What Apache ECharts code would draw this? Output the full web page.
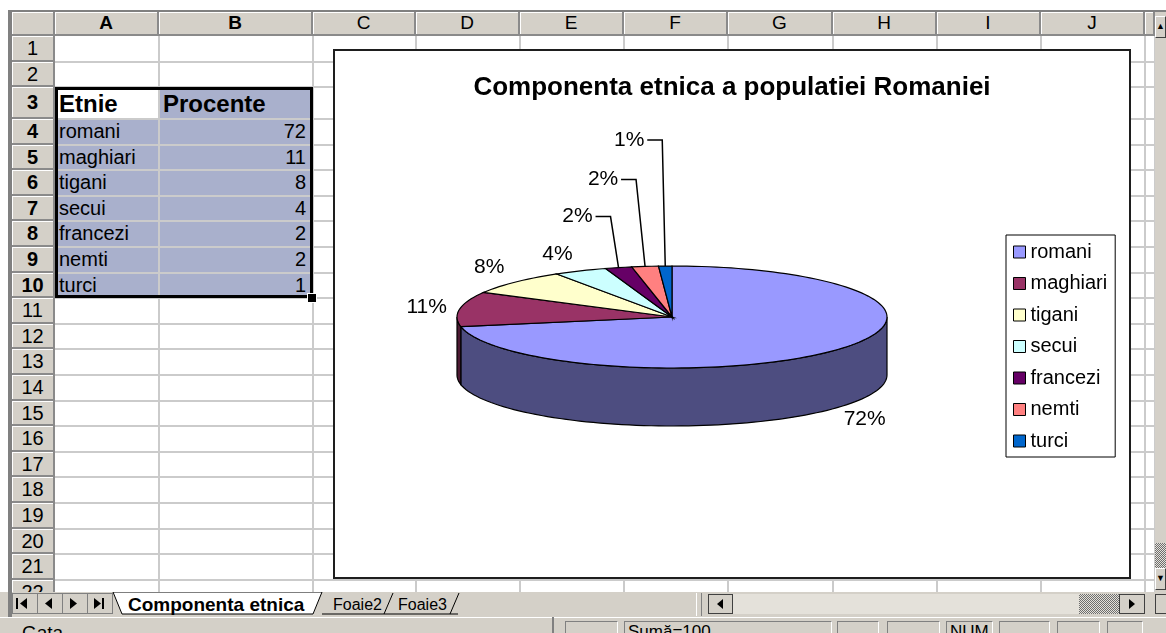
<!DOCTYPE html>
<html>
<head>
<meta charset="utf-8">
<title>Componenta etnica</title>
<script src="https://cdn.jsdelivr.net/npm/echarts@6/dist/echarts.min.js"></script>
<style>
  body { margin: 0; width: 1166px; height: 633px; overflow: hidden; background: #fff; position: relative;
         font-family: "Liberation Sans", Arial, sans-serif; color: #000; }
  .abs { position: absolute; box-sizing: border-box; white-space: nowrap; }
  .hdr { background: #d4d0c8; border-right: 2px solid #8a8a8a; border-bottom: 2px solid #8a8a8a;
         box-shadow: inset 1px 1px 0 #fff; text-align: center; font-size: 19px; overflow: hidden; }
  .btn { background: #d4d0c8; border: 1px solid; border-color: #fff #404040 #404040 #fff;
         font-size: 9px; text-align: center; line-height: 18px; }
  .panel { border: 1px solid; border-color: #808080 #fff #fff #808080; font-size: 17px; padding-left: 3px; line-height: 20px; }
  .checker { background: repeating-conic-gradient(#6e6e6e 0 25%, #e4e1da 0 50%) 0 0 / 2px 2px; }
</style>
</head>
<body>
<div class="abs" style="left:8px;top:10px;width:1158px;height:607px;background:#808080"></div>
<div id="sheet" class="abs" style="left:0;top:0;width:1155px;height:592px;overflow:hidden"></div>
<div id="chrome"></div>
<script>
// data
const categories = ['romani', 'maghiari', 'tigani', 'secui', 'francezi', 'nemti', 'turci'];
const values = [72, 11, 8, 4, 2, 2, 1];
const colors = ['#9999ff', '#993366', '#ffffcc', '#ccffff', '#660066', '#ff8080', '#0066cc'];
const tableHeader = ['Etnie', 'Procente'];
const columnNames = ['A', 'B', 'C', 'D', 'E', 'F', 'G', 'H', 'I', 'J', ''];
const sheetTabs = ['Componenta etnica', 'Foaie2', 'Foaie3'];
const chartTitle = 'Componenta etnica a populatiei Romaniei';

const total = values.reduce((a, b) => a + b, 0);
const font = '"Liberation Sans", Arial, sans-serif';

// sheet layout
const colEdges = [55, 159, 313, 416, 520, 624, 728, 833, 937, 1041, 1145, 1155];
const rowTops = [36, 62, 87, 119];
while (rowTops.length < 24) rowTops.push(119 + (rowTops.length - 3) * 25.6);

const sheet = document.getElementById('sheet');
const body = document.body;
function box(parent, x, y, w, h, cls, css, text) {
  const d = document.createElement('div');
  d.className = 'abs ' + (cls || '');
  Object.assign(d.style, { left: x + 'px', top: y + 'px', width: w + 'px', height: h + 'px' }, css || {});
  if (text != null) d.textContent = text;
  parent.appendChild(d);
  return d;
}

box(sheet, 12, 12, 1143, 580, '', { background: '#fff' });
// selection A3:B10
const selTop = rowTops[2], selBottom = rowTops[2 + categories.length + 1];
box(sheet, 55, selTop, 258, selBottom - selTop, '', { background: '#a9b0cc' });
box(sheet, 55, selTop, 104, rowTops[3] - selTop, '', { background: '#fff' });
// grid lines
for (let c = 1; c < colEdges.length; c++) box(sheet, colEdges[c] - 1, 36, 2, 556, '', { background: '#cbcbcb' });
for (let r = 1; r < rowTops.length; r++) box(sheet, 55, rowTops[r] - 1, 1100, 2, '', { background: '#cbcbcb' });
// table text
box(sheet, 59, selTop, 100, rowTops[3] - selTop, '', { font: 'bold 24px ' + font, lineHeight: '33px' }, tableHeader[0]);
box(sheet, 163, selTop, 150, rowTops[3] - selTop, '', { font: 'bold 24px ' + font, lineHeight: '33px' }, tableHeader[1]);
categories.forEach((name, i) => {
  const y = rowTops[3 + i], h = rowTops[4 + i] - y;
  box(sheet, 59, y, 100, h, '', { fontSize: '20px', lineHeight: h + 'px' }, name);
  box(sheet, 159, y, 147, h, '', { fontSize: '20px', lineHeight: h + 'px', textAlign: 'right' }, String(values[i]));
});
box(sheet, 55, selTop, 258, selBottom - selTop, '', { border: '3px solid #000' });
box(sheet, 308, selBottom - 4, 8, 8, '', { background: '#000', outline: '1px solid #fff' });
// headers
box(sheet, 12, 12, 43, 24, 'hdr');
columnNames.forEach((n, c) => {
  box(sheet, colEdges[c], 12, colEdges[c + 1] - colEdges[c], 24, 'hdr',
    { fontWeight: c < 2 ? 'bold' : 'normal', lineHeight: '22px' }, n);
});
for (let r = 0; r < rowTops.length - 1; r++) {
  const h = rowTops[r + 1] - rowTops[r];
  box(sheet, 12, rowTops[r], 43, h, 'hdr',
    { fontWeight: r >= 2 && r <= 9 ? 'bold' : 'normal', fontSize: '20px', lineHeight: (h - 1) + 'px' }, String(r + 1));
}
// chart object
const wrap = box(sheet, 333, 49, 798, 530, '', { border: '2px solid #1e1e1e', background: '#fff' });
const chartDiv = document.createElement('div');
chartDiv.id = 'chart';
chartDiv.style.cssText = 'position:absolute;left:0;top:0;width:794px;height:526px';
wrap.appendChild(chartDiv);

// vertical scrollbar
box(body, 1155, 12, 11, 580, '', { background: '#d4d0c8' });
box(body, 1155, 16, 11, 22, 'btn', {}, '▲');
box(body, 1155, 543, 11, 25, 'checker');
box(body, 1155, 568, 11, 22, 'btn', {}, '▼');

// tab bar
const tabSvg = `
<svg class="abs" style="left:0;top:592px" width="1166" height="25" font-family='${font}'>
  <rect width="1166" height="25" fill="#d4d0c8"/>
  <rect x="8" width="4" height="25" fill="#808080"/>
  ${[0, 1, 2, 3].map(k => `<rect x="${12.5 + 25 * k}" y="1.5" width="25" height="20" fill="#d4d0c8" stroke="#808080"/>`).join('')}
  <rect x="16" y="6" width="2" height="11" fill="#000"/><polygon points="27,6 20,11.5 27,17" fill="#000"/>
  <polygon points="52,6 45,11.5 52,17" fill="#000"/>
  <polygon points="70,6 77,11.5 70,17" fill="#000"/>
  <polygon points="94,6 101,11.5 94,17" fill="#000"/><rect x="102" y="6" width="2" height="11" fill="#000"/>
  <polyline points="322,22 458,22" stroke="#000" fill="none"/>
  <polyline points="384,22 393,1" stroke="#000" fill="none"/>
  <polyline points="450,22 459,1" stroke="#000" fill="none"/>
  <polygon points="113,0 122,22 313,22 322,0" fill="#fff" stroke="#000"/>
  <text x="128" y="19" font-size="19" font-weight="bold">${sheetTabs[0]}</text>
  <text x="333" y="18" font-size="16">${sheetTabs[1]}</text>
  <text x="398" y="18" font-size="16">${sheetTabs[2]}</text>
  <line x1="696.5" y1="1" x2="696.5" y2="24" stroke="#fff"/><line x1="701.5" y1="1" x2="701.5" y2="24" stroke="#808080"/>
  <rect x="708.5" y="2.5" width="24" height="19" fill="#d4d0c8" stroke="#404040"/>
  <polygon points="723,7 717,12 723,17" fill="#000"/>
  <rect x="733" y="2" width="346" height="20" fill="#e4e1da"/>
  <defs><pattern id="chk" width="2" height="2" patternUnits="userSpaceOnUse">
    <rect width="2" height="2" fill="#e4e1da"/><rect width="1" height="1" fill="#6e6e6e"/><rect x="1" y="1" width="1" height="1" fill="#6e6e6e"/>
  </pattern></defs>
  <rect x="1079" y="2" width="40" height="20" fill="url(#chk)"/>
  <rect x="1119.5" y="2.5" width="25" height="19" fill="#d4d0c8" stroke="#404040"/>
  <polygon points="1129,7 1135,12 1129,17" fill="#000"/>
  <rect x="1155.5" y="2.5" width="11" height="19" fill="#d4d0c8" stroke="#404040"/>
</svg>`;
document.getElementById('chrome').innerHTML = tabSvg;

// status bar
box(body, 0, 617, 1166, 16, '', { background: '#d4d0c8', borderTop: '1px solid #fff' });
box(body, 22, 622, 80, 20, '', { fontSize: '19px', lineHeight: '22px' }, 'Gata');
box(body, 552, 617, 2, 16, '', { background: '#808080' });
[[565, 618, ''], [624, 832, 'Sumă=' + total], [837, 879, ''], [887, 940, ''], [946, 993, 'NUM'],
 [999, 1050, ''], [1057, 1100, ''], [1107, 1143, '']].forEach(p => {
  box(body, p[0], 621, p[1] - p[0], 20, 'panel', {}, p[2]);
});

// 3d pie
const depth = 58;
const labelOffsets = [[27, 12], [-33, -2], [-26, -15], [-23, -17], [-41, -51], [-42, -87], [-36, -126]];
const withLeader = [false, false, false, false, true, true, true];

// side walls are the face colour at half brightness
function halfShade(hex) {
  const n = parseInt(hex.slice(1), 16);
  const ch = [(n >> 16) & 255, (n >> 8) & 255, n & 255].map(v => Math.round(v * 0.5));
  return 'rgb(' + ch.join(',') + ')';
}

function renderSlice(params, api) {
  const i = api.value(0);
  const start = values.slice(0, i).reduce((a, b) => a + b, 0) / total * 360;
  const end = start + api.value(1) / total * 360;
  const c = api.coord([0, 0]);
  const s = api.size([1, 1]);
  const pt = (deg, dz) => {
    const t = deg * Math.PI / 180;
    return [c[0] + s[0] * Math.sin(t), c[1] - s[1] * Math.cos(t) + dz];
  };
  const arc = (a, b, dz) => {
    const n = Math.max(2, Math.ceil((b - a) / 2));
    const pts = [];
    for (let k = 0; k <= n; k++) pts.push(pt(a + (b - a) * k / n, dz));
    return pts;
  };
  const children = [];
  const fs = Math.max(start, 90), fe = Math.min(end, 270);
  if (fe > fs) {
    children.push({
      type: 'polygon',
      shape: { points: arc(fs, fe, 0).concat(arc(fs, fe, depth).reverse()) },
      style: { fill: halfShade(colors[i]), stroke: '#000', lineWidth: 1.2 }
    });
  }
  children.push({
    type: 'polygon',
    shape: { points: [c].concat(arc(start, end, 0)) },
    style: { fill: colors[i], stroke: '#000', lineWidth: 1.2 }
  });
  const mid = (start + end) / 2;
  const front = Math.cos(mid * Math.PI / 180) < 0;
  const anchor = pt(mid, front ? depth : 0);
  const lx = anchor[0] + labelOffsets[i][0], ly = anchor[1] + labelOffsets[i][1];
  children.push({
    type: 'text', x: lx, y: ly,
    style: { text: Math.round(api.value(1) / total * 100) + '%', align: 'center', verticalAlign: 'middle',
             fill: '#000', fontSize: 21, fontFamily: font }
  });
  if (withLeader[i]) {
    children.push({
      type: 'polyline',
      shape: { points: [[lx + 18, ly], [lx + 33, ly], anchor] },
      style: { stroke: '#000', lineWidth: 1.5, fill: null }
    });
  }
  return { type: 'group', children };
}

const chart = echarts.init(chartDiv);
chart.setOption({
  animation: false,
  title: {
    text: chartTitle, left: 'center', top: 24, padding: 0,
    textStyle: { fontSize: 26, fontWeight: 'bold', color: '#000', fontFamily: font }
  },
  legend: {
    orient: 'vertical', left: 671, top: 184,
    padding: [7, 8, 6, 7], itemGap: 11.5, itemWidth: 12, itemHeight: 12,
    icon: 'rect', selectedMode: false,
    borderColor: '#000', borderWidth: 1,
    itemStyle: { borderColor: '#000', borderWidth: 1 },
    textStyle: { fontSize: 20, color: '#000', fontFamily: font },
    data: categories
  },
  grid: { left: 122, top: 215, width: 430, height: 102 },
  xAxis: { type: 'value', min: -1, max: 1, show: false },
  yAxis: { type: 'value', min: -1, max: 1, show: false },
  series: categories.map((name, i) => ({
    type: 'custom',
    name,
    coordinateSystem: 'cartesian2d',
    silent: true,
    itemStyle: { color: colors[i] },
    data: [[i, values[i]]],
    renderItem: renderSlice
  }))
});
</script>
</body>
</html>
